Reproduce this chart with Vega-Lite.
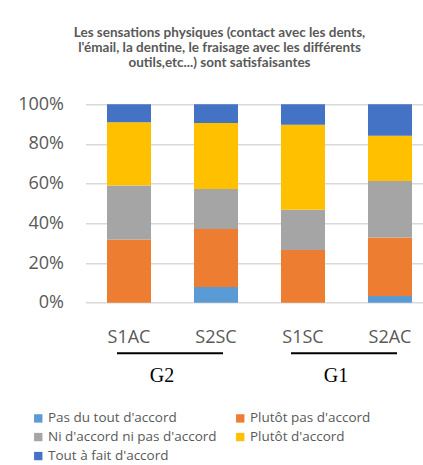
{
  "$schema": "https://vega.github.io/schema/vega-lite/v6.json",
  "autosize": {"type": "none"},
  "width": 348,
  "height": 198.4,
  "padding": {"left": 85.5, "top": 104.3, "right": 0, "bottom": 162.3},
  "background": "white",
  "config": {
    "view": {"stroke": null},
    "font": "Open Sans",
    "axisY": {"labelOverlap": false, "labelBound": false, "labelFlush": false, "values": [0, 0.2, 0.4, 0.6, 0.8, 1], "format": "%", "tickCount": 6}
  },
  "title": {
    "text": ["Les sensations physiques (contact avec les dents,", "l'émail, la dentine, le fraisage avec les différents", "outils,etc...) sont satisfaisantes"],
    "anchor": "middle",
    "dx": -40,
    "offset": 26,
    "font": "Lato",
    "fontSize": 13.5,
    "fontWeight": "bold",
    "color": "#595959",
    "lineHeight": 15
  },
  "datasets": {
    "responses": [
      {"sujet": "S1AC", "reponse": "Pas du tout d'accord", "rank": 1, "pct": 0},
      {"sujet": "S1AC", "reponse": "Plutôt pas d'accord", "rank": 2, "pct": 31.8},
      {"sujet": "S1AC", "reponse": "Ni d'accord ni pas d'accord", "rank": 3, "pct": 27.3},
      {"sujet": "S1AC", "reponse": "Plutôt d'accord", "rank": 4, "pct": 31.8},
      {"sujet": "S1AC", "reponse": "Tout à fait d'accord", "rank": 5, "pct": 9.1},
      {"sujet": "S2SC", "reponse": "Pas du tout d'accord", "rank": 1, "pct": 7.9},
      {"sujet": "S2SC", "reponse": "Plutôt pas d'accord", "rank": 2, "pct": 29.2},
      {"sujet": "S2SC", "reponse": "Ni d'accord ni pas d'accord", "rank": 3, "pct": 20.2},
      {"sujet": "S2SC", "reponse": "Plutôt d'accord", "rank": 4, "pct": 33.3},
      {"sujet": "S2SC", "reponse": "Tout à fait d'accord", "rank": 5, "pct": 9.4},
      {"sujet": "S1SC", "reponse": "Pas du tout d'accord", "rank": 1, "pct": 0},
      {"sujet": "S1SC", "reponse": "Plutôt pas d'accord", "rank": 2, "pct": 26.6},
      {"sujet": "S1SC", "reponse": "Ni d'accord ni pas d'accord", "rank": 3, "pct": 20.3},
      {"sujet": "S1SC", "reponse": "Plutôt d'accord", "rank": 4, "pct": 42.8},
      {"sujet": "S1SC", "reponse": "Tout à fait d'accord", "rank": 5, "pct": 10.3},
      {"sujet": "S2AC", "reponse": "Pas du tout d'accord", "rank": 1, "pct": 3.4},
      {"sujet": "S2AC", "reponse": "Plutôt pas d'accord", "rank": 2, "pct": 29.4},
      {"sujet": "S2AC", "reponse": "Ni d'accord ni pas d'accord", "rank": 3, "pct": 28.5},
      {"sujet": "S2AC", "reponse": "Plutôt d'accord", "rank": 4, "pct": 22.9},
      {"sujet": "S2AC", "reponse": "Tout à fait d'accord", "rank": 5, "pct": 15.8}
    ],
    "groups": [
      {"groupe": "G2", "debut": "S1AC", "fin": "S2SC"},
      {"groupe": "G1", "debut": "S1SC", "fin": "S2AC"}
    ]
  },
  "layer": [
    {
      "data": {"name": "responses"},
      "mark": {"type": "bar"},
      "encoding": {
        "x": {
          "field": "sujet", "type": "nominal",
          "scale": {"domain": ["S1AC", "S2SC", "S1SC", "S2AC"], "paddingInner": 0.494, "paddingOuter": 0.247},
          "axis": {"title": null, "labelAngle": 0, "domain": false, "ticks": false, "labelPadding": 26, "labelFontSize": 18, "labelColor": "#595959", "labelFont": "Open Sans"}
        },
        "y": {
          "field": "pct", "type": "quantitative", "stack": "normalize",
          "scale": {"domain": [0, 1]},
          "axis": {"title": null, "format": "%", "values": [0, 0.2, 0.4, 0.6, 0.8, 1], "domain": false, "ticks": false, "labelPadding": 22, "labelFontSize": 18, "labelColor": "#595959", "labelFont": "Open Sans", "labelOverlap": false, "labelBound": false, "labelFlush": false, "gridColor": "#D9D9D9", "gridWidth": 1.5}
        },
        "color": {
          "field": "reponse", "type": "nominal",
          "scale": {
            "domain": ["Pas du tout d'accord", "Plutôt pas d'accord", "Ni d'accord ni pas d'accord", "Plutôt d'accord", "Tout à fait d'accord"],
            "range": ["#5B9BD5", "#ED7D31", "#A5A5A5", "#FFC000", "#4472C4"]
          },
          "legend": {
            "title": null, "orient": "none", "direction": "horizontal", "columns": 2,
            "legendX": -54, "legendY": 307, "padding": 0,
            "symbolType": "square", "symbolSize": 70, "symbolStrokeWidth": 0,
            "labelFontSize": 13.5, "labelColor": "#595959", "labelFont": "Open Sans", "labelOffset": 3,
            "rowPadding": 4, "columnPadding": 16, "labelLimit": 300
          }
        },
        "order": {"field": "rank", "type": "quantitative"}
      }
    },
    {
      "data": {"name": "groups"},
      "mark": {"type": "rule", "color": "black", "strokeWidth": 2, "xOffset": -12, "x2Offset": 7},
      "encoding": {
        "x": {"field": "debut", "type": "nominal"},
        "x2": {"field": "fin"},
        "y": {"datum": -0.255, "type": "quantitative"}
      }
    },
    {
      "data": {"name": "groups"},
      "mark": {"type": "text", "font": "Liberation Serif", "fontSize": 20, "color": "black", "dx": 33, "baseline": "middle"},
      "encoding": {
        "x": {"field": "debut", "type": "nominal"},
        "y": {"datum": -0.37, "type": "quantitative"},
        "text": {"field": "groupe"}
      }
    }
  ]
}
